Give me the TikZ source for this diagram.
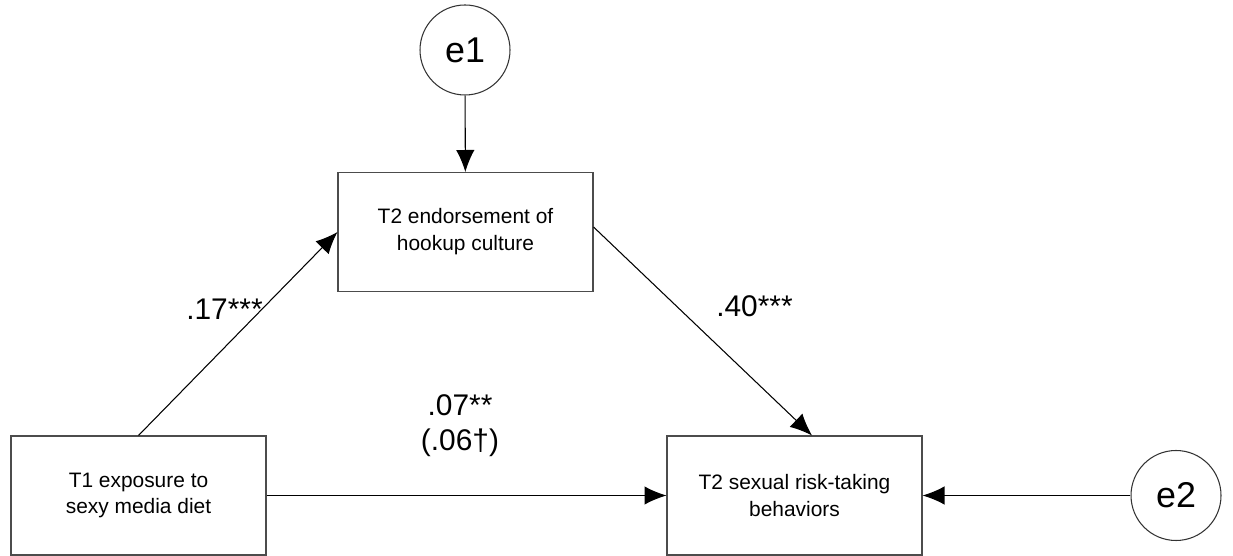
\documentclass[tikz,border=0pt]{standalone}
\usepackage{fontspec}
\setmainfont{Liberation Sans}
\usetikzlibrary{arrows.meta}

\begin{document}
\begin{tikzpicture}[
        varbox/.style={draw=black!70, line width=0.6pt, minimum width=5.1cm, minimum height=2.38cm, inner sep=0pt, align=center, font=\fontsize{11.9}{15.3}\selectfont},
        errcirc/.style={draw=black!80, line width=0.6pt, circle, minimum size=1.8cm, inner sep=0pt, font=\fontsize{20.4}{24}\selectfont},
        coef/.style={anchor=base, align=center, font=\fontsize{17}{20.4}\selectfont},
        arr/.style={-{Latex[length=12.5pt,width=10.5pt]}, line width=0.6pt}]
        \useasboundingbox (0,0) rectangle (24.66,11.12); % page size
        \node[errcirc] (e1) at (9.30,10.12) {e1};
        \node[errcirc] (e2) at (23.52,1.21) {e2};
        \node[varbox] (hookup) at (9.31,6.48) {T2 endorsement of\\hookup culture};
        \node[varbox] (media) at (2.77,1.21) {T1 exposure to\\sexy media diet};
        \node[varbox] (risk) at (15.89,1.21) {T2 sexual risk-taking\\behaviors};
        \draw[arr] (e1) -- (hookup);
        \draw[arr] (e2) -- (risk);
        \draw[arr] (media.north) -- (hookup.west);
        \draw[arr] ([yshift=0.1cm]hookup.east) -- ([xshift=0.35cm]risk.north);
        \draw[arr] (media) -- (risk);
        \node[coef] (c1) at (4.49,4.72) {.17***}; % paths
        \node[coef] (c2) at (15.09,4.78) {.40***};
        \node[coef] (c3) at (9.20,2.10) {.07**\\(.06†)}; % base is the last line
    \end{tikzpicture}
\end{document}
